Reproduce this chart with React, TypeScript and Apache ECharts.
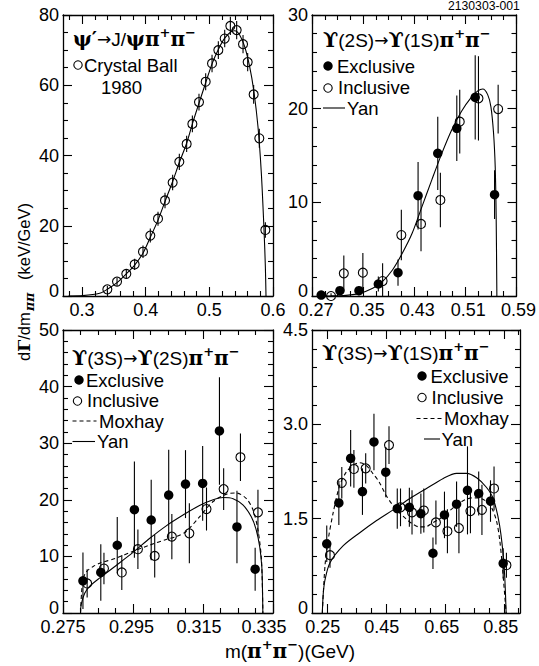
import { useEffect, useRef } from "react";
import * as echarts from "echarts";

const FONT = "'Liberation Sans', Arial, Helvetica, sans-serif";
const GREEK = "'DejaVu Serif', 'Liberation Serif', serif";
const DSANS = "'DejaVu Sans', sans-serif";

// ---------- Panel 1: psi' -> J/psi pi+ pi-  (Crystal Ball 1980) ----------
const psiMass = [0.3397, 0.3549, 0.3695, 0.3826, 0.3957, 0.4072, 0.4193, 0.4303, 0.4423, 0.4528, 0.4643, 0.4733, 0.4837, 0.4942, 0.5042, 0.5141, 0.5241, 0.533, 0.5429, 0.5529, 0.5602, 0.5696, 0.5785, 0.588];
const psiRate = [1.9, 4.1, 6.3, 9.0, 12.6, 17.2, 22.0, 27.2, 32.3, 38.2, 43.3, 49.0, 55.2, 61.0, 66.2, 70.0, 73.3, 76.9, 75.7, 71.7, 66.6, 57.4, 44.9, 18.8];
const psiErr = [1.0, 1.2, 1.4, 1.6, 1.8, 2.0, 2.0, 2.2, 2.2, 2.3, 2.3, 2.4, 2.4, 2.4, 2.5, 2.5, 2.5, 2.6, 2.6, 2.6, 2.6, 2.7, 2.7, 2.2];
const psiCurveMass = [0.2785, 0.301, 0.3276, 0.3397, 0.3549, 0.3695, 0.3826, 0.3957, 0.4072, 0.4193, 0.4303, 0.4423, 0.4528, 0.4643, 0.4733, 0.4837, 0.4942, 0.5042, 0.5141, 0.5241, 0.5345, 0.5398, 0.5476, 0.5555, 0.5633, 0.5696, 0.5764, 0.5817, 0.5859, 0.588, 0.589];
const psiCurveRate = [0, 0.1, 0.76, 1.9, 3.8, 6.3, 8.8, 12.2, 16.7, 21.6, 26.9, 32.6, 38.0, 43.5, 49.0, 54.9, 60.7, 66.1, 70.2, 73.4, 75.3, 75.5, 74.3, 71.0, 65.3, 58.7, 48.2, 34.9, 18.8, 8.3, 0];
const psiXTicks = [0.3, 0.4, 0.5, 0.6];
const psiYTicks = [0, 20, 40, 60, 80];

// ---------- Panel 2: Y(2S) -> Y(1S) pi+ pi- ----------
const u21ExclMass = [0.2844, 0.3137, 0.3435, 0.3738, 0.4046, 0.436, 0.4668, 0.4966, 0.5254, 0.5557];
const u21ExclRate = [0.1, 0.57, 0.57, 1.28, 2.49, 10.71, 15.23, 17.9, 21.21, 10.82];
const u21ExclErr = [0.2, 0.4, 0.5, 0.8, 1.4, 3.6, 3.9, 3.5, 4.5, 2.6];
const u21InclMass = [0.2998, 0.3198, 0.3496, 0.3805, 0.4098, 0.4406, 0.4709, 0.5012, 0.5305, 0.5613];
const u21InclRate = [0, 2.42, 2.49, 1.6, 6.51, 7.69, 10.25, 18.61, 21.1, 19.96];
const u21InclErr = [0.3, 1.9, 2.1, 1.9, 2.7, 2.9, 2.9, 3.4, 4.5, 2.6];
const u21YanMass = [0.279, 0.3, 0.319, 0.3445, 0.365, 0.38, 0.3959, 0.4113, 0.4267, 0.4421, 0.4575, 0.473, 0.4884, 0.5038, 0.5192, 0.5295, 0.5372, 0.5449, 0.55, 0.5541, 0.5567, 0.5582, 0.5593];
const u21YanRate = [0, 0.01, 0.04, 0.28, 0.82, 1.53, 2.78, 4.56, 6.69, 9.54, 12.4, 15.2, 17.7, 19.7, 21.2, 21.9, 22.1, 21.5, 20.2, 17.4, 13.8, 8.5, 0];
const u21XTicks = [0.27, 0.35, 0.43, 0.51, 0.59];
const u21YTicks = [0, 10, 20, 30];

// ---------- Panel 3: Y(3S) -> Y(2S) pi+ pi- ----------
const u32ExclMass = [0.2807, 0.2858, 0.2905, 0.2954, 0.3002, 0.3052, 0.31, 0.3149, 0.3197, 0.3247, 0.3299];
const u32ExclRate = [5.69, 7.16, 11.97, 18.25, 16.43, 20.83, 22.77, 22.89, 32.16, 15.2, 7.75];
const u32ExclErr = [5.0, 5.0, 5.0, 8.5, 7.1, 8.0, 6.0, 6.6, 9.5, 6.4, 3.8];
const u32InclMass = [0.2819, 0.2867, 0.2918, 0.2964, 0.3012, 0.3061, 0.3111, 0.316, 0.3209, 0.3257, 0.3307];
const u32InclRate = [5.22, 7.86, 7.16, 11.27, 10.09, 13.5, 14.08, 18.37, 21.89, 27.52, 17.78];
const u32InclErr = [2.5, 2.8, 3.1, 3.5, 3.8, 4.0, 5.3, 3.8, 3.7, 4.2, 4.0];
const u32YanMass = [0.28, 0.2802, 0.2812, 0.2826, 0.2855, 0.2902, 0.295, 0.2998, 0.3045, 0.3093, 0.314, 0.3179, 0.3207, 0.3236, 0.3264, 0.3288, 0.3302, 0.3312, 0.3318, 0.332, 0.3321];
const u32YanRate = [0, 1.5, 3.5, 4.7, 6.2, 8.4, 10.7, 13.2, 15.4, 17.3, 19.0, 20.0, 20.4, 20.2, 19.1, 17.0, 14.7, 11.7, 8.2, 4.1, 0];
const u32MoxMass = [0.28, 0.2803, 0.2807, 0.2817, 0.2836, 0.2855, 0.2902, 0.295, 0.2998, 0.3045, 0.3074, 0.3102, 0.314, 0.3179, 0.3217, 0.3245, 0.3274, 0.3293, 0.3307, 0.3317, 0.3321];
const u32MoxRate = [0, 3.5, 5.9, 7.3, 8.2, 8.8, 9.7, 10.9, 12.0, 13.0, 13.5, 14.4, 17.0, 19.7, 21.0, 21.2, 20.2, 18.2, 14.7, 9.4, 0];
const u32XTicks = [0.275, 0.295, 0.315, 0.335];
const u32YTicks = [0, 10, 20, 30, 40, 50];

// ---------- Panel 4: Y(3S) -> Y(1S) pi+ pi- ----------
const u31ExclMass = [0.25, 0.291, 0.331, 0.371, 0.41, 0.45, 0.489, 0.53, 0.569, 0.61, 0.649, 0.69, 0.727, 0.765, 0.805, 0.848];
const u31ExclRate = [1.1, 1.75, 2.46, 1.93, 2.72, 2.24, 1.66, 1.68, 1.58, 0.95, 1.56, 1.73, 1.95, 1.9, 1.78, 0.79];
const u31ExclErr = [0.29, 0.35, 0.45, 0.37, 0.45, 0.4, 0.32, 0.31, 0.32, 0.25, 0.37, 0.36, 0.7, 0.35, 0.33, 0.24];
const u31InclMass = [0.261, 0.301, 0.342, 0.382, 0.461, 0.5, 0.539, 0.579, 0.62, 0.659, 0.698, 0.737, 0.776, 0.817, 0.859];
const u31InclRate = [0.92, 2.07, 2.29, 2.3, 2.67, 1.68, 1.6, 1.63, 1.44, 1.3, 1.35, 1.62, 1.64, 1.98, 0.76];
const u31InclErr = [0.2, 0.25, 0.3, 0.24, 0.3, 0.3, 0.35, 0.35, 0.35, 0.35, 0.4, 0.35, 0.4, 0.35, 0.2];
const u31YanMass = [0.235, 0.238, 0.2442, 0.261, 0.306, 0.363, 0.419, 0.475, 0.532, 0.588, 0.645, 0.69, 0.724, 0.758, 0.791, 0.814, 0.836, 0.851, 0.858];
const u31YanRate = [0, 0.3, 0.53, 0.8, 1.07, 1.28, 1.47, 1.64, 1.82, 1.98, 2.14, 2.22, 2.22, 2.15, 2.0, 1.82, 1.39, 0.75, 0];
const u31MoxMass = [0.235, 0.244, 0.255, 0.272, 0.294, 0.316, 0.339, 0.361, 0.383, 0.406, 0.428, 0.45, 0.473, 0.495, 0.518, 0.54, 0.563, 0.585, 0.607, 0.63, 0.652, 0.675, 0.697, 0.719, 0.742, 0.764, 0.786, 0.808, 0.825, 0.836, 0.845, 0.858];
const u31MoxRate = [0, 0.75, 1.17, 1.6, 2.03, 2.24, 2.35, 2.39, 2.35, 2.22, 2.08, 1.88, 1.72, 1.6, 1.5, 1.42, 1.37, 1.37, 1.43, 1.49, 1.57, 1.66, 1.74, 1.8, 1.83, 1.83, 1.79, 1.68, 1.47, 1.17, 0.75, 0];
const u31XTicks = [0.25, 0.45, 0.65, 0.85];
const u31YTicks = [0, 1.5, 3.0, 4.5];

type PanelCfg = {
  grid: { left: number; top: number; width: number; height: number };
  xMin: number; xMax: number; xMajor: number[]; xStep: number; xStart: number;
  yMin: number; yMax: number; yMajor: number[]; yStep: number;
  xFmt: (v: number) => string; yFmt: (v: number) => string;
  xShift: number[]; // horizontal nudge of each x label (px), as printed in the original figure
};

const panels: PanelCfg[] = [
  { grid: { left: 63, top: 15, width: 210, height: 281 }, xMin: 0.27, xMax: 0.6, xMajor: psiXTicks, xStep: 0.02, xStart: 0.28,
    yMin: 0, yMax: 80, yMajor: psiYTicks, yStep: 5, xFmt: (v) => v.toFixed(1), yFmt: (v) => String(v), xShift: [0, 0, 0, 0] },
  { grid: { left: 312, top: 15, width: 208, height: 281 }, xMin: 0.27, xMax: 0.59, xMajor: u21XTicks, xStep: 0.02, xStart: 0.27,
    yMin: 0, yMax: 30, yMajor: u21YTicks, yStep: 2, xFmt: (v) => v.toFixed(2), yFmt: (v) => String(v), xShift: [4, 4, 3, 3, 2] },
  { grid: { left: 63, top: 330, width: 210, height: 283 }, xMin: 0.275, xMax: 0.335, xMajor: u32XTicks, xStep: 0.005, xStart: 0.275,
    yMin: 0, yMax: 50, yMajor: u32YTicks, yStep: 2, xFmt: (v) => v.toFixed(3), yFmt: (v) => String(v), xShift: [0, -1.5, -4, -9] },
  { grid: { left: 312, top: 330, width: 208, height: 283 }, xMin: 0.2, xMax: 0.905, xMajor: u31XTicks, xStep: 0.05, xStart: 0.25,
    yMin: 0, yMax: 4.5, yMajor: u31YTicks, yStep: 0.3, xFmt: (v) => v.toFixed(2), yFmt: (v) => (v === 0 ? "0" : v.toFixed(1)), xShift: [-4, -4, -3, -3] },
];

function minorValues(start: number, max: number, step: number, majors: number[]) {
  const out: number[] = [];
  for (let i = 0; ; i++) {
    const v = Math.round((start + i * step) * 1e6) / 1e6;
    if (v > max + 1e-9) break;
    if (!majors.some((m) => Math.abs(m - v) < 1e-7)) out.push(v);
  }
  return out;
}

const BLACK = "#000";

function buildAxes() {
  const xAxis: any[] = [];
  const yAxis: any[] = [];
  panels.forEach((p, gi) => {
    const xMinor = minorValues(p.xStart, p.xMax, p.xStep, p.xMajor);
    const yMinor = minorValues(p.yMin, p.yMax, p.yStep, p.yMajor);
    const base = (min: number, max: number) => ({
      type: "value", gridIndex: gi, min, max, splitLine: { show: false }, axisPointer: { show: false },
    });
    const line = { show: true, onZero: false, lineStyle: { color: BLACK, width: 1.3 } };
    const noLine = { show: false, onZero: false };
    const xRich: any = {};
    p.xShift.forEach((d, i) => {
      xRich["s" + i] = {
        fontSize: 18, fontFamily: FONT, color: BLACK, lineHeight: 14,
        padding: d < 0 ? [0, -2 * d, 0, 0] : [0, 0, 0, 2 * d],
      };
    });
    const xLab = {
      show: true, customValues: p.xMajor, color: BLACK, fontSize: 18, lineHeight: 14, fontFamily: FONT, margin: 7,
      showMinLabel: true, showMaxLabel: true, rich: xRich,
      formatter: (v: number) => {
        const i = p.xMajor.findIndex((m) => Math.abs(m - v) < 1e-7);
        return `{s${i < 0 ? 0 : i}|${p.xFmt(v)}}`;
      },
    };
    const yLab = {
      show: true, customValues: p.yMajor, color: BLACK, fontSize: 18, lineHeight: 10,
      fontFamily: FONT, margin: 4, showMinLabel: true, showMaxLabel: true,
      rich: {
        z: { fontSize: 18, fontFamily: FONT, color: BLACK, lineHeight: 10, padding: [0, 0, 10, 0] },
        v: { fontSize: 18, fontFamily: FONT, color: BLACK, lineHeight: 10 },
      },
      formatter: (v: number) => (v === p.yMin ? `{z|${p.yFmt(v)}}` : `{v|${p.yFmt(v)}}`),
    };
    const tick = (vals: number[], len: number) => ({ show: true, inside: true, length: len, customValues: vals, lineStyle: { color: BLACK, width: 1.1 } });
    for (const pos of ["bottom", "top"]) {
      xAxis.push({ ...base(p.xMin, p.xMax), position: pos, axisLine: line, axisTick: tick(p.xMajor, 9),
        axisLabel: pos === "bottom" ? xLab : { show: false } });
      xAxis.push({ ...base(p.xMin, p.xMax), position: pos, axisLine: noLine, axisTick: tick(xMinor, 5), axisLabel: { show: false } });
    }
    for (const pos of ["left", "right"]) {
      yAxis.push({ ...base(p.yMin, p.yMax), position: pos, axisLine: line, axisTick: tick(p.yMajor, 9),
        axisLabel: pos === "left" ? yLab : { show: false } });
      yAxis.push({ ...base(p.yMin, p.yMax), position: pos, axisLine: noLine, axisTick: tick(yMinor, 5), axisLabel: { show: false } });
    }
  });
  return { xAxis, yAxis };
}

const zip = (xs: number[], ys: number[]) => xs.map((x, i) => [x, ys[i]]);

function points(gi: number, xs: number[], ys: number[], filled: boolean) {
  return {
    type: "scatter", xAxisIndex: gi * 4, yAxisIndex: gi * 4, data: zip(xs, ys), symbol: "circle",
    symbolSize: filled ? 9.5 : 9, silent: true, z: 5,
    itemStyle: filled ? { color: BLACK, opacity: 1 } : { color: "rgba(255,255,255,0)", borderColor: BLACK, borderWidth: 1.1, opacity: 1 },
  };
}

function errors(gi: number, xs: number[], ys: number[], es: number[]) {
  return {
    type: "custom", xAxisIndex: gi * 4, yAxisIndex: gi * 4, silent: true, z: 6, clip: true,
    data: xs.map((x, i) => [x, ys[i] - es[i], ys[i] + es[i]]),
    encode: { x: 0, y: [1, 2] },
    renderItem: (_params: any, api: any) => {
      const a = api.coord([api.value(0), api.value(1)]);
      const b = api.coord([api.value(0), api.value(2)]);
      return { type: "line", shape: { x1: a[0], y1: a[1], x2: b[0], y2: b[1] }, style: { stroke: BLACK, lineWidth: 1.1 } };
    },
  };
}

function curve(gi: number, xs: number[], ys: number[], dashed: boolean) {
  return {
    type: "line", xAxisIndex: gi * 4, yAxisIndex: gi * 4, data: zip(xs, ys), showSymbol: false, symbol: "none",
    smooth: 0.3, silent: true, z: 3, clip: true,
    lineStyle: { color: BLACK, width: 1.1, type: dashed ? [4, 3] : "solid" },
  };
}

// ---------- formula-like text built from measured pieces ----------
type Seg = { t: string; size: number; family: string; weight?: string; italic?: boolean; dy?: number; lh?: number };
const N = (t: string): Seg => ({ t, size: 19, family: FONT, lh: 16 });
const G = (t: string): Seg => ({ t, size: 20, family: GREEK, weight: "bold", lh: 16 });
const A = (t: string): Seg => ({ t, size: 17, family: DSANS, lh: 14 });
const S = (t: string): Seg => ({ t, size: 13, family: DSANS, weight: "bold", dy: -6.5, lh: 10 });

let measureCtx: CanvasRenderingContext2D | null = null;
function widthOf(s: Seg) {
  if (!measureCtx) measureCtx = document.createElement("canvas").getContext("2d");
  const font = `${s.italic ? "italic " : ""}${s.weight || "normal"} ${s.size}px ${s.family}`;
  if (!measureCtx) return s.t.length * s.size * 0.55;
  measureCtx.font = font;
  return measureCtx.measureText(s.t).width;
}

function formula(x0: number, y: number, segs: Seg[], center = false) {
  const ws = segs.map(widthOf);
  const total = ws.reduce((a, b) => a + b, 0);
  let x = center ? x0 - total / 2 : x0;
  return segs.map((s, i) => {
    const el = {
      type: "text", x, y: y + (s.dy || 0), silent: true, z: 20,
      style: {
        text: s.t, fill: BLACK, fontSize: s.size, fontFamily: s.family, fontWeight: s.weight || "normal",
        fontStyle: s.italic ? "italic" : "normal", align: "left", verticalAlign: "middle", lineHeight: s.lh || s.size,
      },
    };
    x += ws[i];
    return el;
  });
}

function ptext(x: number, y: number, text: string, size = 18.5) {
  return {
    type: "text", x, y, silent: true, z: 20,
    style: { text, fill: BLACK, fontSize: size, fontFamily: FONT, align: "left", verticalAlign: "middle", lineHeight: Math.round(size * 0.85) },
  };
}

const openDot = (cx: number, cy: number) => ({ type: "circle", silent: true, z: 20, shape: { cx, cy, r: 4.2 }, style: { fill: "rgba(0,0,0,0)", stroke: BLACK, lineWidth: 1.1 } });
const fullDot = (cx: number, cy: number) => ({ type: "circle", silent: true, z: 20, shape: { cx, cy, r: 4.7 }, style: { fill: BLACK } });
const legLine = (x1: number, x2: number, y: number, dashed: boolean) => ({
  type: "line", silent: true, z: 20, shape: { x1, y1: y, x2, y2: y }, style: { stroke: BLACK, lineWidth: 1.1, lineDash: dashed ? [4, 3] : null },
});

// rotated (reading bottom-to-top) pieces of the y-axis title
const vtext = (x: number, y: number, text: string, rich: any) => ({
  type: "text", x, y, rotation: Math.PI / 2, silent: true, z: 20,
  style: { text, rich, fill: BLACK, align: "left", verticalAlign: "middle", fontSize: 16.5, fontFamily: FONT },
});

const yTitleRich = {
  n: { fontSize: 16.5, fontFamily: FONT, fill: BLACK },
  g: { fontSize: 17, fontFamily: GREEK, fontWeight: "bold", fill: BLACK },
  sb: { fontSize: 12.5, fontFamily: GREEK, fontWeight: "bold", fontStyle: "italic", fill: BLACK },
};

function buildGraphics() {
  return [
    // panel 1
    ...formula(73, 39, [G("ψ′"), A("→"), N("J/"), G("ψπ"), S("+"), G("π"), S("−")]),
    openDot(78, 65), ptext(84, 65, "Crystal Ball"), ptext(101, 87, "1980"),
    // panel 2
    ...formula(323, 40, [G("ϒ"), N("(2S)"), A("→"), G("ϒ"), N("(1S)"), G("π"), S("+"), G("π"), S("−")]),
    fullDot(328, 66), ptext(337, 66, "Exclusive"),
    openDot(328, 88), ptext(338, 87, "Inclusive"),
    legLine(323, 345, 108, false), ptext(347, 108, "Yan"),
    // panel 3
    ...formula(72, 358, [G("ϒ"), N("(3S)"), A("→"), G("ϒ"), N("(2S)"), G("π"), S("+"), G("π"), S("−")]),
    fullDot(79, 380), ptext(86, 380, "Exclusive"),
    openDot(77.5, 401), ptext(87, 400.5, "Inclusive"),
    legLine(72.5, 96.5, 421, true), ptext(99, 421, "Moxhay"),
    legLine(72.5, 95, 441.5, false), ptext(97, 441.5, "Yan"),
    // panel 4
    ...formula(322, 353, [G("ϒ"), N("(3S)"), A("→"), G("ϒ"), N("(1S)"), G("π"), S("+"), G("π"), S("−")]),
    fullDot(422, 376), ptext(430.5, 376, "Exclusive"),
    openDot(422, 397.5), ptext(431.5, 397, "Inclusive"),
    legLine(416.5, 441.5, 418.5, true), ptext(444, 418, "Moxhay"),
    legLine(424, 440, 439, false), ptext(441.5, 439, "Yan"),
    // figure id
    ptext(448, 6, "2130303-001", 12.2),
    // x-axis title
    ...formula(290, 651, [N("m("), G("π"), S("+"), G("π"), S("−"), N(")(GeV)")], true),
    // y-axis title pieces
    vtext(24, 361, "{n|d}{g|Γ}{n|/dm}", yTitleRich),
    vtext(29, 311, "{sb|ππ}", yTitleRich),
    vtext(24, 280, "{n|(keV/GeV)}", yTitleRich),
  ];
}

export default function App() {
  const ref = useRef<HTMLDivElement>(null);
  useEffect(() => {
    if (!ref.current) return;
    const chart = echarts.init(ref.current, undefined, { renderer: "svg" });
    const { xAxis, yAxis } = buildAxes();
    chart.setOption({
      animation: false,
      backgroundColor: "#fff",
      textStyle: { fontFamily: FONT },
      grid: panels.map((p) => ({ ...p.grid, containLabel: false })),
      xAxis,
      yAxis,
      series: [
        curve(0, psiCurveMass, psiCurveRate, false),
        points(0, psiMass, psiRate, false),
        errors(0, psiMass, psiRate, psiErr),

        curve(1, u21YanMass, u21YanRate, false),
        points(1, u21ExclMass, u21ExclRate, true),
        errors(1, u21ExclMass, u21ExclRate, u21ExclErr),
        points(1, u21InclMass, u21InclRate, false),
        errors(1, u21InclMass, u21InclRate, u21InclErr),

        curve(2, u32YanMass, u32YanRate, false),
        curve(2, u32MoxMass, u32MoxRate, true),
        points(2, u32ExclMass, u32ExclRate, true),
        errors(2, u32ExclMass, u32ExclRate, u32ExclErr),
        points(2, u32InclMass, u32InclRate, false),
        errors(2, u32InclMass, u32InclRate, u32InclErr),

        curve(3, u31YanMass, u31YanRate, false),
        curve(3, u31MoxMass, u31MoxRate, true),
        points(3, u31ExclMass, u31ExclRate, true),
        errors(3, u31ExclMass, u31ExclRate, u31ExclErr),
        points(3, u31InclMass, u31InclRate, false),
        errors(3, u31InclMass, u31InclRate, u31InclErr),
      ],
      graphic: buildGraphics(),
    });
    return () => chart.dispose();
  }, []);
  return <div ref={ref} style={{ position: "absolute", left: 0, top: 0, width: 539, height: 666, background: "#fff" }} />;
}
